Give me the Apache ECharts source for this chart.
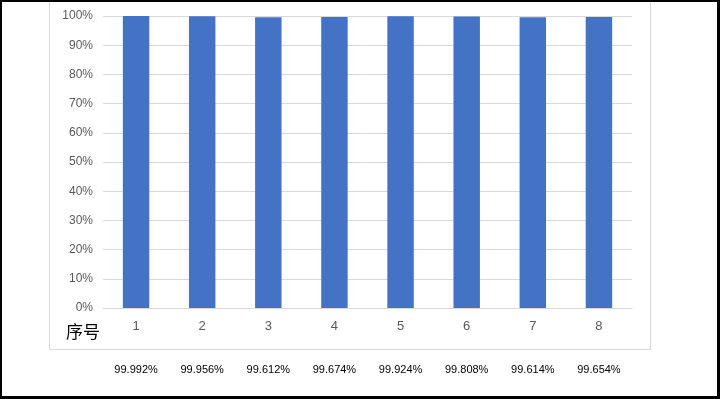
<!DOCTYPE html>
<html>
<head>
<meta charset="utf-8">
<script src="https://cdn.jsdelivr.net/npm/echarts@6/dist/echarts.min.js"></script>
<style>
  html, body { margin: 0; padding: 0; background: #fff; }
  #wrap { position: relative; width: 720px; height: 399px; }
  #chart { width: 720px; height: 399px; }
  #frame {
    position: absolute; left: 0; top: 0; width: 720px; height: 399px;
    box-sizing: border-box; border-style: solid; border-color: #000;
    border-width: 2px 3px 3px 2px; pointer-events: none;
  }
</style>
</head>
<body>
<div id="wrap">
  <div id="chart"></div>
  <div id="frame"></div>
</div>
<script>
  // 序号
  var categories = ['1', '2', '3', '4', '5', '6', '7', '8']
  // 比率 (%)
  var rates = [99.992, 99.956, 99.612, 99.674, 99.924, 99.808, 99.614, 99.654]
  var rateLabels = ['99.992%', '99.956%', '99.612%', '99.674%', '99.924%', '99.808%', '99.614%', '99.654%']
  var yTicks = [0, 100, 10]

  var chart = echarts.init(document.getElementById('chart'))
  var option = {
    animation: false,
    grid: {
      left: 103,
      right: 88,
      top: 16,
      bottom: 91,
      containLabel: false
    },
    graphic: [
      {
        type: 'rect',
        shape: { x: 49.5, y: -2, width: 601, height: 351.5 },
        style: { fill: 'none', stroke: '#d9d9d9', lineWidth: 1 },
        silent: true
      },
      {
        type: 'text',
        left: 66,
        top: 323,
        style: {
          text: '序号',
          fill: '#000',
          font: '17px "Noto Sans CJK SC"'
        },
        silent: true
      }
    ],
    xAxis: [
      {
        type: 'category',
        data: categories,
        axisTick: { show: false },
        axisLine: { lineStyle: { color: '#d9d9d9', width: 1 } },
        axisLabel: {
          color: '#595959',
          fontSize: 13,
          fontFamily: 'Liberation Sans',
          margin: 12
        }
      },
      {
        type: 'category',
        data: rateLabels,
        position: 'bottom',
        offset: 48,
        axisTick: { show: false },
        axisLine: { show: false },
        axisLabel: {
          color: '#000',
          fontSize: 11,
          fontFamily: 'Liberation Sans',
          margin: 8
        }
      }
    ],
    yAxis: {
      type: 'value',
      min: yTicks[0],
      max: yTicks[1],
      interval: yTicks[2],
      axisLine: { show: false },
      axisTick: { show: false },
      axisLabel: {
        formatter: '{value}%',
        color: '#595959',
        fontSize: 12,
        fontFamily: 'Liberation Sans',
        margin: 10
      },
      splitLine: { lineStyle: { color: '#d9d9d9', width: 1 } }
    },
    series: [
      {
        name: '比率',
        type: 'bar',
        xAxisIndex: 0,
        barWidth: '40%',
        itemStyle: { color: '#4472c4' },
        data: rates
      }
    ]
  }
  chart.setOption(option)
</script>
</body>
</html>
